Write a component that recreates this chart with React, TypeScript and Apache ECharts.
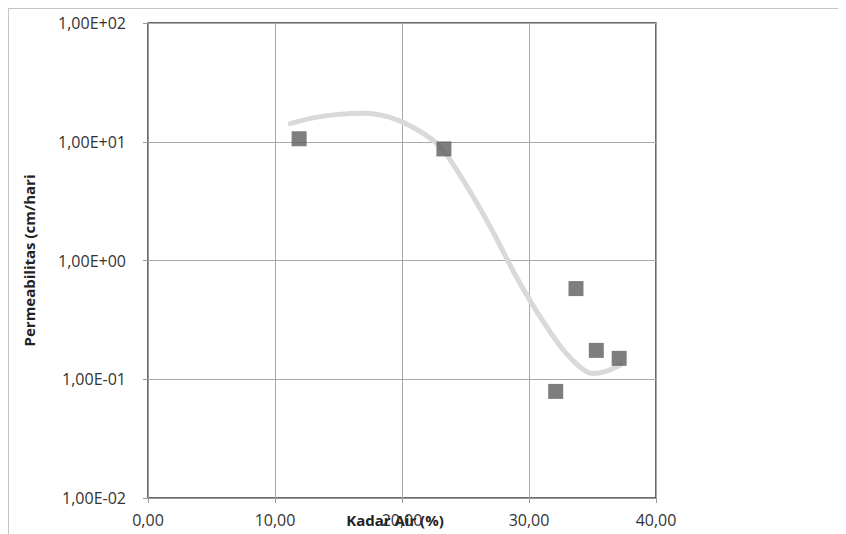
import React, { useEffect, useRef } from "react";
import * as echarts from "echarts";

const kadarAir = [11.9, 23.3, 33.7, 35.3, 37.1, 32.1];
const permeabilitas = [10.6, 8.7, 0.58, 0.175, 0.15, 0.079];

const trendX = [11.2, 13, 15, 17, 19, 21, 23, 25, 27, 29, 31, 33, 35, 36, 37.2];
const trendY = [14.2, 15.9, 17.0, 17.4, 16.1, 13.0, 9.1, 4.4, 1.88, 0.73, 0.32, 0.162, 0.112, 0.116, 0.132];

const xTicks = [0, 10, 20, 30, 40];
const yTicks = [0.01, 0.1, 1, 10, 100];

function fmtX(v: number) {
  return v.toFixed(2).replace(".", ",");
}
function fmtY(v: number) {
  const e = Math.round(Math.log10(v));
  const s = e < 0 ? "-" : "+";
  const a = Math.abs(e);
  return "1,00E" + s + (a < 10 ? "0" + a : String(a));
}

export default function App() {
  const ref = useRef<HTMLDivElement>(null);
  useEffect(() => {
    if (!ref.current) return;
    const chart = echarts.init(ref.current, undefined, { renderer: "svg" });
    const font = "Open Sans";
    chart.setOption({
      animation: false,
      backgroundColor: "#ffffff",
      grid: {
        left: 139,
        top: 14,
        right: 190,
        bottom: 36,
        containLabel: false,
        outerBoundsMode: "none",
        show: true,
        borderColor: "#3a3a3a",
        borderWidth: 1.5,
      },
      xAxis: {
        type: "value",
        min: xTicks[0],
        max: xTicks[xTicks.length - 1],
        interval: 10,
        name: "Kadar Air (%)",
        nameLocation: "middle",
        nameGap: 14,
        nameMoveOverlap: false,
        nameTextStyle: { fontFamily: font, fontWeight: "bold", fontSize: 15, color: "#222", padding: [0, 0, 0, -14] },
        axisLine: { show: true, lineStyle: { color: "#9a9a9a", width: 1 } },
        axisTick: { show: true, length: 5, lineStyle: { color: "#9a9a9a" } },
        axisLabel: { fontFamily: font, fontSize: 16, color: "#333", margin: 14, formatter: (v: number) => fmtX(v) },
        splitLine: { show: true, lineStyle: { color: "#a8a8a8", width: 1 } },
      },
      yAxis: {
        type: "log",
        logBase: 10,
        min: yTicks[0],
        max: yTicks[yTicks.length - 1],
        name: "Permeabilitas (cm/hari",
        nameLocation: "middle",
        nameGap: 112,
        nameMoveOverlap: false,
        nameTextStyle: { fontFamily: font, fontWeight: "bold", fontSize: 15, color: "#222" },
        axisLine: { show: true, lineStyle: { color: "#9a9a9a", width: 1 } },
        axisTick: { show: true, length: 5, lineStyle: { color: "#9a9a9a" } },
        axisLabel: { fontFamily: font, fontSize: 16, color: "#333", margin: 22, formatter: (v: number) => fmtY(v) },
        splitLine: { show: true, lineStyle: { color: "#a8a8a8", width: 1 } },
      },
      series: [
        {
          type: "line",
          data: trendX.map((x, i) => [x, trendY[i]]),
          smooth: 0.3,
          showSymbol: false,
          symbol: "none",
          lineStyle: { color: "#d9d9d9", width: 5, cap: "round" },
          z: 2,
        },
        {
          type: "scatter",
          data: kadarAir.map((x, i) => [x, permeabilitas[i]]),
          symbol: "rect",
          symbolSize: 15,
          itemStyle: { color: "#5e5e5e" },
          z: 3,
        },
      ],
    });
    return () => chart.dispose();
  }, []);
  return (
    <div
      ref={ref}
      style={{
        width: 838,
        height: 526,
        boxSizing: "border-box",
        borderTop: "1px solid #c4c4c4",
        borderLeft: "1px solid #c4c4c4",
      }}
    />
  );
}
